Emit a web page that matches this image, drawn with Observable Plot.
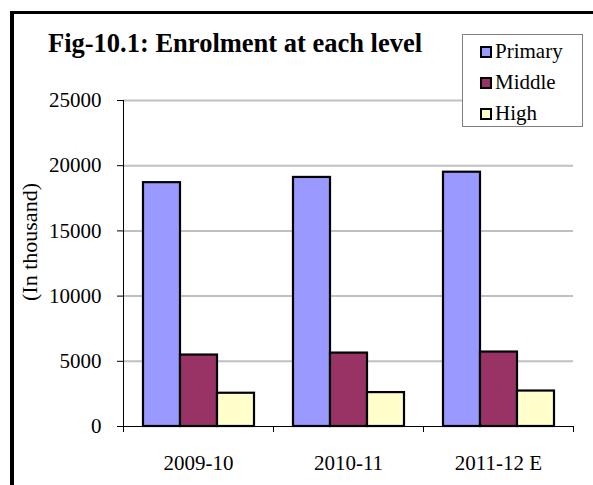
<!DOCTYPE html>
<html>
<head>
<meta charset="utf-8">
<script src="https://cdn.jsdelivr.net/npm/d3@7"></script>
<script src="https://cdn.jsdelivr.net/npm/@observablehq/plot@0.6"></script>
<style>
  html, body { margin: 0; padding: 0; background: white; }
  #wrap { position: relative; width: 593px; height: 485px; overflow: hidden; background: white; font-family: "Liberation Serif", "Times New Roman", serif; color: black; }
  #border { position: absolute; left: 10px; top: 11px; width: 700px; height: 600px; border-left: 4px solid black; border-top: 3px solid black; box-sizing: border-box; }
  #chart { position: absolute; left: 0; top: 0; }
  #title { position: absolute; left: 48px; top: 30px; font-size: 26.5px; font-weight: bold; line-height: 1; white-space: nowrap; }
  #ylabel { position: absolute; left: 30px; top: 242px; font-size: 22px; white-space: nowrap; transform: translate(-50%, -50%) rotate(-90deg); line-height: 1; }
  #legend { position: absolute; left: 462px; top: 34px; width: 121px; height: 93px; box-sizing: border-box; border: 1px solid #808080; background: white; padding-top: 1px; }
  .item { display: flex; align-items: center; height: 31px; padding-left: 17px; font-size: 21px; }
  .sw { width: 12px; height: 12px; box-sizing: border-box; border: 2px solid black; margin-right: 3px; }
</style>
</head>
<body>
<div id="wrap">
  <div id="border"></div>
  <div id="chart"></div>
  <div id="title">Fig-10.1: Enrolment at each level</div>
  <div id="ylabel">(In thousand)</div>
  <div id="legend"></div>
</div>
<script>
// Data
const years = ["2009-10", "2010-11", "2011-12 E"];
const levels = ["Primary", "Middle", "High"];
const primary = [18700, 19100, 19500];
const middle = [5480, 5630, 5710];
const high = [2550, 2600, 2720];
const colors = ["#9999FF", "#993366", "#FFFFCC"];
const yTicks = [0, 5000, 10000, 15000, 20000, 25000];

const series = [primary, middle, high];
const data = [];
years.forEach((yr, i) => {
  levels.forEach((lv, j) => {
    data.push({year: yr, level: lv, value: series[j][i]});
  });
});

const W = 593, H = 485, mT = 100, mB = 59, mL = 123, mR = 20;
const plotH = H - mT - mB;

const chart = Plot.plot({
  width: W,
  height: H,
  marginTop: mT,
  marginBottom: mB,
  marginLeft: mL,
  marginRight: mR,
  style: {fontFamily: "Liberation Serif, Times New Roman, serif", fontSize: "21px", background: "transparent", color: "black", overflow: "visible"},
  fx: {domain: years, padding: 0, label: null, axis: null},
  x: {domain: levels, paddingInner: 0, paddingOuter: 0.5, axis: null},
  y: {domain: [0, 25000], axis: null},
  color: {domain: levels, range: colors},
  marks: [
    Plot.ruleY(yTicks.filter(d => d > 0), {stroke: "#c0c0c0", strokeWidth: 2}),
    Plot.barY(data, {fx: "year", x: "level", y: "value", fill: "level", stroke: "black", strokeWidth: 2.2}),
    Plot.ruleY([0], {stroke: "black", strokeWidth: 1}),
    Plot.frame({anchor: "left", facetAnchor: "left", insetBottom: -5, stroke: "black"}),
    Plot.frame({anchor: "right", insetTop: plotH, insetBottom: -5, stroke: "black"}),
    Plot.axisY({ticks: yTicks, tickSize: 6, tickPadding: 16, tickFormat: d3.format("d"), label: null, fontSize: 21}),
    Plot.axisFx({anchor: "bottom", tickSize: 0, tickPadding: 29, label: null, fontSize: 21})
  ]
});
document.getElementById("chart").appendChild(chart);

// Legend
const legend = document.getElementById("legend");
levels.forEach((lv, j) => {
  const row = document.createElement("div");
  row.className = "item";
  const sw = document.createElement("span");
  sw.className = "sw";
  sw.style.background = colors[j];
  const t = document.createElement("span");
  t.textContent = lv;
  row.appendChild(sw);
  row.appendChild(t);
  legend.appendChild(row);
});
</script>
</body>
</html>
